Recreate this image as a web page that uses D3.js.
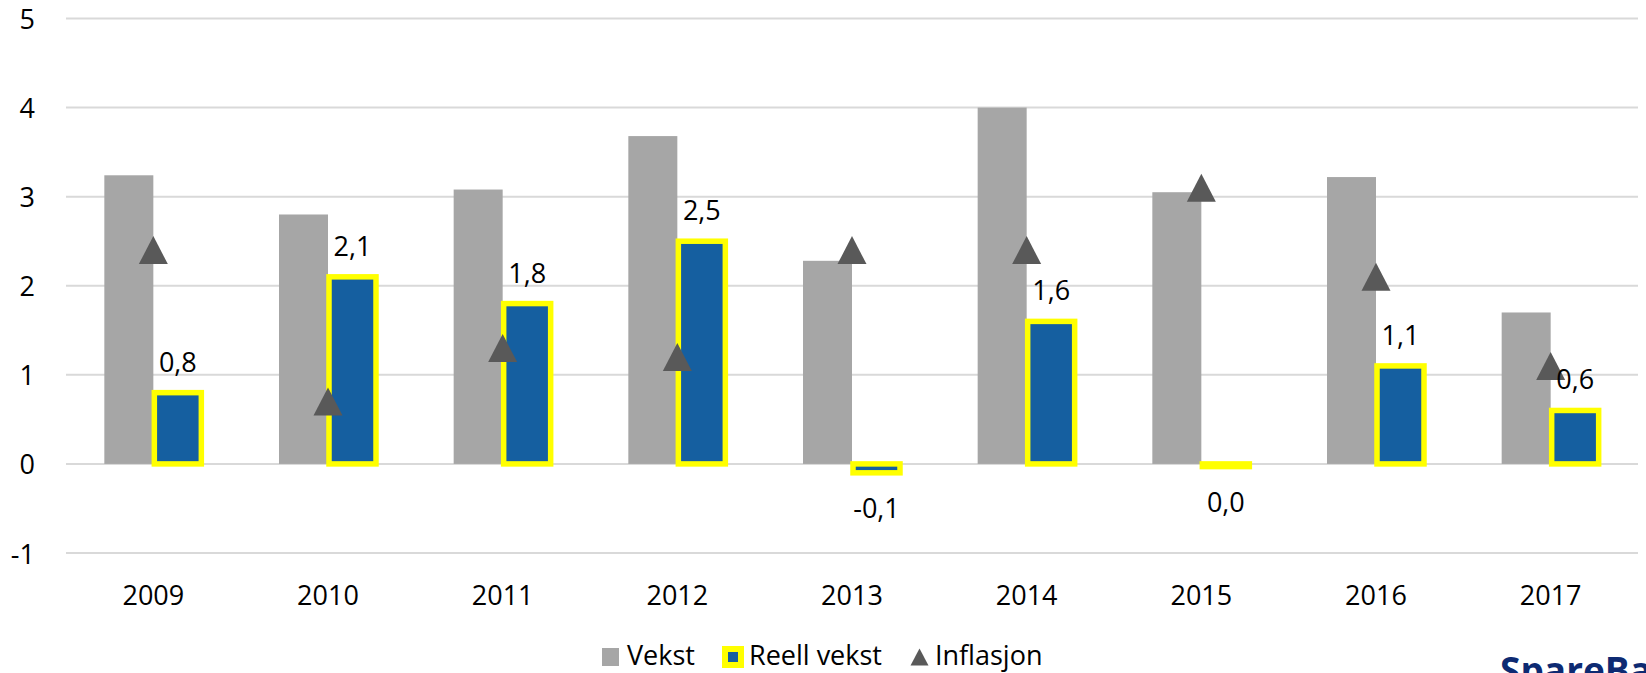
<!DOCTYPE html>
<html>
<head>
<meta charset="utf-8">
<script src="https://cdn.jsdelivr.net/npm/d3@7"></script>
<style>
  html, body { margin: 0; padding: 0; background: #fff; }
  svg { display: block; font-family: "Open Sans", sans-serif; }
</style>
</head>
<body>
<svg id="stage"></svg>
<script>
/* ---------- data ---------- */

const years = ["2009", "2010", "2011", "2012", "2013", "2014", "2015", "2016", "2017"];
const vekst = [3.24, 2.8, 3.08, 3.68, 2.28, 4.0, 3.05, 3.22, 1.7];
const reell_vekst = [0.8, 2.1, 1.8, 2.5, -0.1, 1.6, -0.03, 1.1, 0.6];
const inflasjon = [2.4, 0.7, 1.3, 1.2, 2.4, 2.4, 3.1, 2.1, 1.1];
const y_ticks = [-1, 0, 1, 2, 3, 4, 5];

/* ---------- setup ---------- */

const width = 1646;
const height = 673;
const font_size = 27;

const svg = d3.select("#stage")
  .attr("width", width)
  .attr("height", height);

const x = d3.scaleBand()
  .domain(years)
  .range([66, 1638])
  .padding(0);

const y = d3.scaleLinear()
  .domain([-1, 5])
  .range([553, 18.5]);

const bar_w = 49;
const locale = d3.formatLocale({ decimal: ",", thousands: " ", grouping: [3], currency: ["", ""], minus: "-" });
const fmt1 = locale.format(".1f");
const fmt_label = v => {
  const r = Math.round(v * 10) / 10;
  return fmt1(r === 0 ? 0 : r);
};

/* ---------- grid + axes ---------- */

const grid = svg.append("g");
grid.selectAll("line")
  .data(y_ticks)
  .join("line")
  .attr("x1", x.range()[0])
  .attr("x2", x.range()[1])
  .attr("y1", d => y(d))
  .attr("y2", d => y(d))
  .attr("stroke", "#d9d9d9")
  .attr("stroke-width", 2);

svg.append("g")
  .selectAll("text")
  .data(y_ticks)
  .join("text")
  .attr("x", 35)
  .attr("y", d => y(d))
  .attr("text-anchor", "end")
  .attr("dominant-baseline", "central")
  .attr("font-size", font_size)
  .attr("fill", "#000")
  .text(d => d);

svg.append("g")
  .selectAll("text")
  .data(years)
  .join("text")
  .attr("x", d => x(d) + x.bandwidth() / 2)
  .attr("y", 605)
  .attr("text-anchor", "middle")
  .attr("font-size", font_size)
  .attr("fill", "#000")
  .text(d => d);

/* ---------- bars ---------- */

const center = i => x(years[i]) + x.bandwidth() / 2;

svg.append("g")
  .selectAll("rect")
  .data(vekst)
  .join("rect")
  .attr("x", (d, i) => center(i) - bar_w)
  .attr("y", d => y(Math.max(0, d)))
  .attr("width", bar_w)
  .attr("height", d => Math.abs(y(d) - y(0)))
  .attr("fill", "#a6a6a6");

svg.append("g")
  .selectAll("rect")
  .data(reell_vekst)
  .join("rect")
  .attr("x", (d, i) => center(i) + 1)
  .attr("y", d => y(Math.max(0, d)))
  .attr("width", bar_w - 2)
  .attr("height", d => Math.abs(y(d) - y(0)))
  .attr("fill", "#155fa0")
  .attr("stroke", "#ffff00")
  .attr("stroke-width", 5.5);

/* ---------- inflation markers ---------- */

const tri = (cx, cy, w, h) =>
  `M${cx},${cy - h / 2}L${cx + w / 2},${cy + h / 2}L${cx - w / 2},${cy + h / 2}Z`;

svg.append("g")
  .selectAll("path")
  .data(inflasjon)
  .join("path")
  .attr("d", (d, i) => tri(center(i), y(d), 29, 28))
  .attr("fill", "#595959");

/* ---------- data labels ---------- */

svg.append("g")
  .selectAll("text")
  .data(reell_vekst)
  .join("text")
  .attr("x", (d, i) => center(i) + bar_w / 2)
  .attr("y", d => d > 0 ? y(d) - 21 : y(d) + 45)
  .attr("text-anchor", "middle")
  .attr("font-size", font_size)
  .attr("fill", "#000")
  .text(d => fmt_label(d));

/* ---------- legend ---------- */

const legend = svg.append("g");
const leg_y = 657;
const leg_base = 665;

legend.append("rect")
  .attr("x", 602).attr("y", leg_y - 9)
  .attr("width", 17).attr("height", 18)
  .attr("fill", "#a6a6a6");
legend.append("text")
  .attr("x", 627).attr("y", leg_base)
  .attr("font-size", font_size)
  .text("Vekst");

legend.append("rect")
  .attr("x", 725).attr("y", leg_y - 8)
  .attr("width", 16).attr("height", 16)
  .attr("fill", "#155fa0")
  .attr("stroke", "#ffff00")
  .attr("stroke-width", 6);
legend.append("text")
  .attr("x", 749).attr("y", leg_base)
  .attr("font-size", font_size)
  .text("Reell vekst");

legend.append("path")
  .attr("d", tri(919.5, leg_y, 18, 17))
  .attr("fill", "#595959");
legend.append("text")
  .attr("x", 935).attr("y", leg_base)
  .attr("font-size", font_size)
  .text("Inflasjon");

/* ---------- logo (cut off at the bottom edge) ---------- */

svg.append("text")
  .attr("x", 1500)
  .attr("y", 684)
  .attr("font-size", 37)
  .attr("font-weight", "bold")
  .attr("fill", "#0d2a72")
  .text("SpareBank 1");
</script>
</body>
</html>
